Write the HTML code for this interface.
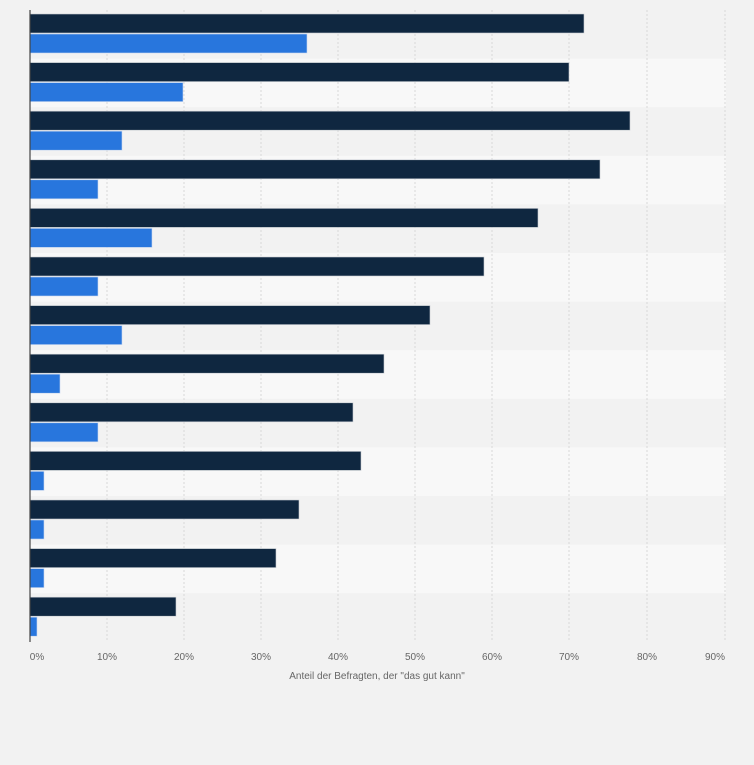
<!DOCTYPE html><html><head><style>body{margin:0;background:#f2f2f2;}</style></head><body>
<svg width="754" height="760" xmlns="http://www.w3.org/2000/svg" font-family="Liberation Sans, sans-serif">
<rect width="754" height="760" fill="#f2f2f2"/>
<g fill="#f8f8f8">
<rect x="30" y="58.6" width="696" height="48.6"/>
<rect x="30" y="155.8" width="696" height="48.6"/>
<rect x="30" y="253" width="696" height="48.6"/>
<rect x="30" y="350.2" width="696" height="48.6"/>
<rect x="30" y="447.4" width="696" height="48.6"/>
<rect x="30" y="544.6" width="696" height="48.6"/>
</g>
<g stroke="#d8d8d8" stroke-dasharray="2,2">
<line x1="107" y1="10" x2="107" y2="642"/>
<line x1="184" y1="10" x2="184" y2="642"/>
<line x1="261" y1="10" x2="261" y2="642"/>
<line x1="338" y1="10" x2="338" y2="642"/>
<line x1="415" y1="10" x2="415" y2="642"/>
<line x1="492" y1="10" x2="492" y2="642"/>
<line x1="569" y1="10" x2="569" y2="642"/>
<line x1="647" y1="10" x2="647" y2="642"/>
<line x1="725" y1="10" x2="725" y2="642"/>
</g>
<g fill="#0f2740" stroke="#c8cdd3" stroke-width="0.6">
<rect x="30" y="14" width="554" height="19"/>
<rect x="30" y="62.6" width="539" height="19"/>
<rect x="30" y="111.2" width="600" height="19"/>
<rect x="30" y="159.8" width="570" height="19"/>
<rect x="30" y="208.4" width="508" height="19"/>
<rect x="30" y="257" width="454" height="19"/>
<rect x="30" y="305.6" width="400" height="19"/>
<rect x="30" y="354.2" width="354" height="19"/>
<rect x="30" y="402.8" width="323" height="19"/>
<rect x="30" y="451.4" width="331" height="19"/>
<rect x="30" y="500" width="269" height="19"/>
<rect x="30" y="548.6" width="246" height="19"/>
<rect x="30" y="597.2" width="146" height="19"/>
</g>
<g fill="#2876dd" stroke="#c8d8f0" stroke-width="0.6">
<rect x="30" y="34" width="277" height="19"/>
<rect x="30" y="82.6" width="153" height="19"/>
<rect x="30" y="131.2" width="92" height="19"/>
<rect x="30" y="179.8" width="68" height="19"/>
<rect x="30" y="228.4" width="122" height="19"/>
<rect x="30" y="277" width="68" height="19"/>
<rect x="30" y="325.6" width="92" height="19"/>
<rect x="30" y="374.2" width="30" height="19"/>
<rect x="30" y="422.8" width="68" height="19"/>
<rect x="30" y="471.4" width="14" height="19"/>
<rect x="30" y="520" width="14" height="19"/>
<rect x="30" y="568.6" width="14" height="19"/>
<rect x="30" y="617.2" width="7" height="19"/>
</g>
<line x1="30" y1="10" x2="30" y2="642" stroke="#444" stroke-width="1.2"/>
<g font-size="10" fill="#666" text-anchor="middle">
<text x="37" y="660">0%</text>
<text x="107" y="660">10%</text>
<text x="184" y="660">20%</text>
<text x="261" y="660">30%</text>
<text x="338" y="660">40%</text>
<text x="415" y="660">50%</text>
<text x="492" y="660">60%</text>
<text x="569" y="660">70%</text>
<text x="647" y="660">80%</text>
<text x="715" y="660">90%</text>
<text x="377" y="679">Anteil der Befragten, der "das gut kann"</text>
</g>
</svg></body></html>
